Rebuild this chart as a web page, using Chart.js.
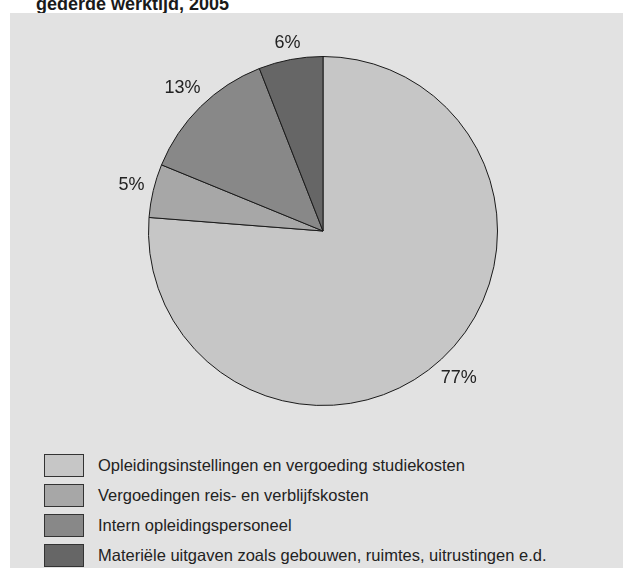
<!DOCTYPE html>
<html>
<head>
<meta charset="utf-8">
<script src="https://cdn.jsdelivr.net/npm/chart.js@4/dist/chart.umd.min.js"></script>
<style>
    html, body { margin: 0; padding: 0; background: #fff; }
    body { width: 623px; height: 568px; position: relative; overflow: hidden; font-family: "Liberation Sans", Arial, sans-serif; }
    #title { position: absolute; left: 36px; top: -5px; font-size: 18px; line-height: 18px; font-weight: bold; color: #1a1a1a; white-space: nowrap; }
    #panel { position: absolute; left: 10px; top: 13px; width: 613px; height: 555px; background: #e2e2e2; }
    #wrap { position: absolute; left: 0; top: 0; width: 613px; height: 427px; }
    #legend { position: absolute; left: 34px; top: 437px; }
    .row { height: 30px; display: flex; align-items: center; }
    .box { width: 38px; height: 21px; border: 1px solid #333; box-sizing: content-box; margin-right: 14px; }
    .txt { font-size: 16.5px; color: #222; white-space: nowrap; }
</style>
</head>
<body>
<div id="title">gederde werktijd, 2005</div>
<div id="panel">
    <div id="wrap"><canvas id="chart"></canvas></div>
    <div id="legend"></div>
</div>
<script>
const categories = [
    'Opleidingsinstellingen en vergoeding studiekosten',
    'Vergoedingen reis- en verblijfskosten',
    'Intern opleidingspersoneel',
    'Materiële uitgaven zoals gebouwen, ruimtes, uitrustingen e.d.'
];
const shares = [77, 5, 13, 6];
const colors = ['#c6c6c6', '#a7a7a7', '#888888', '#666666'];

// percentage labels just outside the rim, pushed out by the text box size
const outsideLabels = {
    id: 'outsideLabels',
    afterDatasetsDraw(chart) {
        const ctx = chart.ctx;
        const meta = chart.getDatasetMeta(0);
        ctx.save();
        ctx.font = '18px "Liberation Sans", Arial, sans-serif';
        ctx.fillStyle = '#222';
        ctx.textAlign = 'center';
        ctx.textBaseline = 'middle';
        meta.data.forEach((arc, i) => {
            const p = arc.getProps(['x', 'y', 'startAngle', 'endAngle', 'outerRadius'], true);
            const text = shares[i] + '%';
            const mid = (p.startAngle + p.endAngle) / 2;
            const cos = Math.cos(mid);
            const sin = Math.sin(mid);
            const halfW = ctx.measureText(text).width / 2;
            const r = p.outerRadius + 8 + Math.abs(cos) * halfW + Math.abs(sin) * 7;
            ctx.fillText(text, p.x + cos * r, p.y + sin * r);
        });
        ctx.restore();
    }
};

const chart = new Chart(document.getElementById('chart'), {
    type: 'pie',
    data: {
        labels: categories,
        datasets: [{
            data: shares,
            backgroundColor: colors,
            borderColor: '#1a1a1a',
            borderWidth: 1
        }]
    },
    options: {
        responsive: true,
        maintainAspectRatio: false,
        animation: false,
        events: [],
        layout: { padding: { left: 138, right: 125, top: 43, bottom: 34 } },
        plugins: {
            legend: { display: false },
            tooltip: { enabled: false }
        }
    },
    plugins: [outsideLabels]
});

// legend rows built from the same categories and colours
const legend = document.getElementById('legend');
categories.forEach((name, i) => {
    const row = document.createElement('div');
    row.className = 'row';
    const box = document.createElement('div');
    box.className = 'box';
    box.style.background = colors[i];
    const txt = document.createElement('span');
    txt.className = 'txt';
    txt.textContent = name;
    row.appendChild(box);
    row.appendChild(txt);
    legend.appendChild(row);
});
</script>
</body>
</html>
